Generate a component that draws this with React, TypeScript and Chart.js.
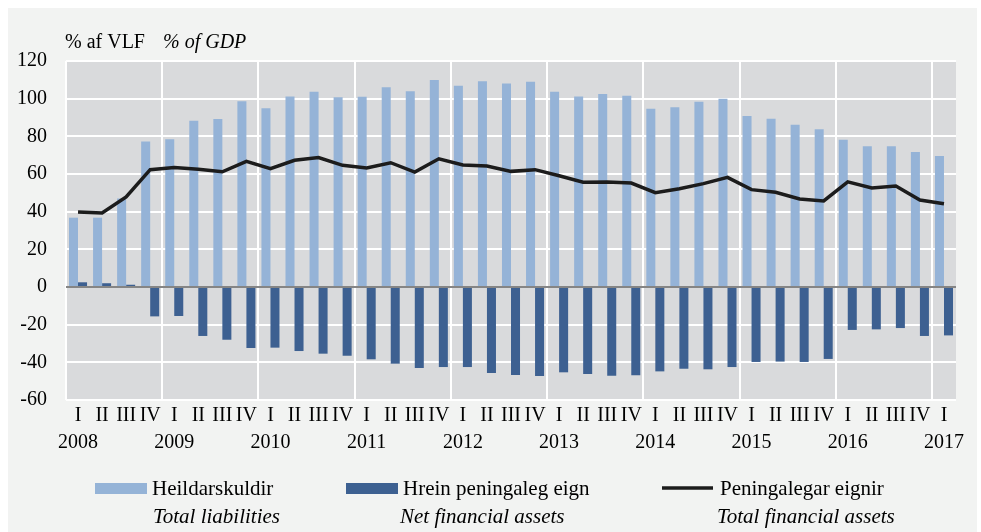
import React, { useEffect, useRef } from "react";
import { Chart, registerables } from "chart.js";

Chart.register(...registerables);

const years = [2008, 2009, 2010, 2011, 2012, 2013, 2014, 2015, 2016, 2017];
const quarterNames = ["I", "II", "III", "IV"];
const quarterCount = 37;

const totalLiabilities = [
  36.8, 36.8, 47, 77.3, 78.4, 88.3, 89.2, 98.6, 94.9, 101.2, 103.7, 100.7, 101, 106, 104, 109.9,
  106.9, 109.2, 108, 109, 103.7, 101.2, 102.5, 101.6, 94.7, 95.4, 98.4, 100, 90.8, 89.4, 86.2, 83.7,
  78.2, 74.7, 74.7, 71.7, 69.6,
];
const netFinancialAssets = [
  2.5, 2, 1.2, -15.6, -15.4, -26, -28, -32.4, -32.2, -34, -35.4, -36.5, -38.4, -40.7, -43, -42.5,
  -42.5, -45.7, -46.7, -47.3, -45.3, -46.2, -47.1, -46.9, -44.8, -43.4, -43.7, -42.5, -39.8, -39.6,
  -39.8, -38.2, -22.8, -22.5, -21.8, -26, -25.7,
];
const totalFinancialAssets = [
  39.8, 39.3, 47.8, 62.3, 63.4, 62.5, 61.2, 66.7, 62.8, 67.3, 68.7, 64.6, 63.2, 66, 61, 68.1, 64.8,
  64.2, 61.4, 62.3, 59.1, 55.6, 55.8, 55.2, 50.1, 52.2, 54.9, 58.2, 51.7, 50.3, 46.7, 45.7, 55.8,
  52.6, 53.6, 46.2, 44.2,
];

const yTicks = [-60, -40, -20, 0, 20, 40, 60, 80, 100, 120];

const seriesNames = ["Heildarskuldir", "Hrein peningaleg eign", "Peningalegar eignir"];
const seriesNamesEn = ["Total liabilities", "Net financial assets", "Total financial assets"];
const titleIs = "% af VLF";
const titleEn = "% of GDP";

const LIGHT = "#95b3d7";
const DARK = "#3d6091";
const LINE = "#1c1c1c";
const PLOT_BG = "#d9dadc";
const PAGE_BG = "#f2f3f2";
const SERIF = "'Liberation Serif', 'Times New Roman', serif";

const W = 969;
const H = 524;

const categories: (string | string[])[] = [];
for (let k = 0; k < quarterCount; k++) {
  const q = k % 4;
  const y = years[Math.floor(k / 4)];
  categories.push(q === 0 ? [quarterNames[q], String(y)] : quarterNames[q]);
}

const decorPlugin = {
  id: "decor",
  beforeDraw(chart: any) {
    const { ctx, chartArea } = chart;
    ctx.save();
    ctx.fillStyle = PLOT_BG;
    ctx.fillRect(chartArea.left, chartArea.top, chartArea.right - chartArea.left, chartArea.bottom - chartArea.top);
    ctx.restore();
  },
  afterDatasetsDraw(chart: any) {
    const { ctx, chartArea } = chart;
    const y0 = chart.scales.y.getPixelForValue(0);
    ctx.save();
    ctx.strokeStyle = "#858585";
    ctx.lineWidth = 2;
    ctx.beginPath();
    ctx.moveTo(chartArea.left, y0);
    ctx.lineTo(chartArea.right, y0);
    ctx.stroke();
    ctx.restore();
  },
  afterDraw(chart: any) {
    const { ctx } = chart;
    ctx.save();
    ctx.fillStyle = "#000";
    ctx.textBaseline = "alphabetic";
    ctx.textAlign = "left";
    // title
    ctx.font = `20px ${SERIF}`;
    ctx.fillText(titleIs, 57, 40);
    ctx.font = `italic 20px ${SERIF}`;
    ctx.fillText(titleEn, 155, 40);

    // legend
    const row1 = 487;
    const row2 = 515;
    ctx.fillStyle = LIGHT;
    ctx.fillRect(87, 475, 52, 11);
    ctx.fillStyle = DARK;
    ctx.fillRect(338, 475, 52, 11);
    ctx.strokeStyle = LINE;
    ctx.lineWidth = 3.5;
    ctx.beginPath();
    ctx.moveTo(654, 480);
    ctx.lineTo(705, 480);
    ctx.stroke();

    ctx.fillStyle = "#000";
    ctx.font = `21px ${SERIF}`;
    ctx.fillText(seriesNames[0], 144, row1);
    ctx.fillText(seriesNames[1], 395, row1);
    ctx.fillText(seriesNames[2], 712, row1);
    ctx.font = `italic 21px ${SERIF}`;
    ctx.fillText(seriesNamesEn[0], 145, row2);
    ctx.fillText(seriesNamesEn[1], 392, row2);
    ctx.fillText(seriesNamesEn[2], 709, row2);
    ctx.restore();
  },
};

export default function App() {
  const ref = useRef<HTMLCanvasElement | null>(null);

  useEffect(() => {
    if (!ref.current) return;
    const chart = new Chart(ref.current, {
      type: "bar",
      data: {
        labels: categories,
        datasets: [
          {
            type: "bar",
            label: seriesNames[0],
            data: totalLiabilities,
            backgroundColor: LIGHT,
            categoryPercentage: 0.75,
            barPercentage: 1.0,
            order: 1,
          },
          {
            type: "bar",
            label: seriesNames[1],
            data: netFinancialAssets,
            backgroundColor: DARK,
            categoryPercentage: 0.75,
            barPercentage: 1.0,
            order: 1,
          },
          {
            type: "line",
            label: seriesNames[2],
            data: totalFinancialAssets,
            borderColor: LINE,
            borderWidth: 3.5,
            pointRadius: 0,
            tension: 0,
            fill: false,
            order: 0,
          } as any,
        ],
      },
      options: {
        responsive: false,
        animation: false,
        devicePixelRatio: 1,
        layout: { padding: { left: 0, right: 21, top: 53, bottom: 0 } },
        plugins: { legend: { display: false }, tooltip: { enabled: false }, title: { display: false } },
        scales: {
          x: {
            grid: {
              offset: true,
              drawTicks: false,
              lineWidth: 2,
              color: (c: any) => (c.index % 4 === 0 && c.index < quarterCount ? "#ffffff" : "rgba(0,0,0,0)"),
            },
            border: { display: false },
            ticks: {
              autoSkip: false,
              maxRotation: 0,
              minRotation: 0,
              padding: 3,
              color: "#000",
              font: { family: SERIF, size: 20, lineHeight: 1.32 },
            },
            afterFit: (s: any) => {
              s.height = 132;
            },
          },
          y: {
            min: -60,
            max: 120,
            afterBuildTicks: (s: any) => {
              s.ticks = yTicks.map((v) => ({ value: v }));
            },
            grid: { color: "#ffffff", lineWidth: 2, drawTicks: false },
            border: { display: false },
            ticks: {
              padding: 19,
              color: "#000",
              font: { family: SERIF, size: 20 },
            },
            afterFit: (s: any) => {
              s.width = 58;
            },
          },
        },
      },
      plugins: [decorPlugin],
    });
    return () => chart.destroy();
  }, []);

  return (
    <div
      style={{
        position: "absolute",
        left: 8,
        top: 8,
        width: W,
        height: H,
        background: PAGE_BG,
      }}
    >
      <canvas ref={ref} width={W} height={H} style={{ width: W, height: H, display: "block" }} />
    </div>
  );
}
